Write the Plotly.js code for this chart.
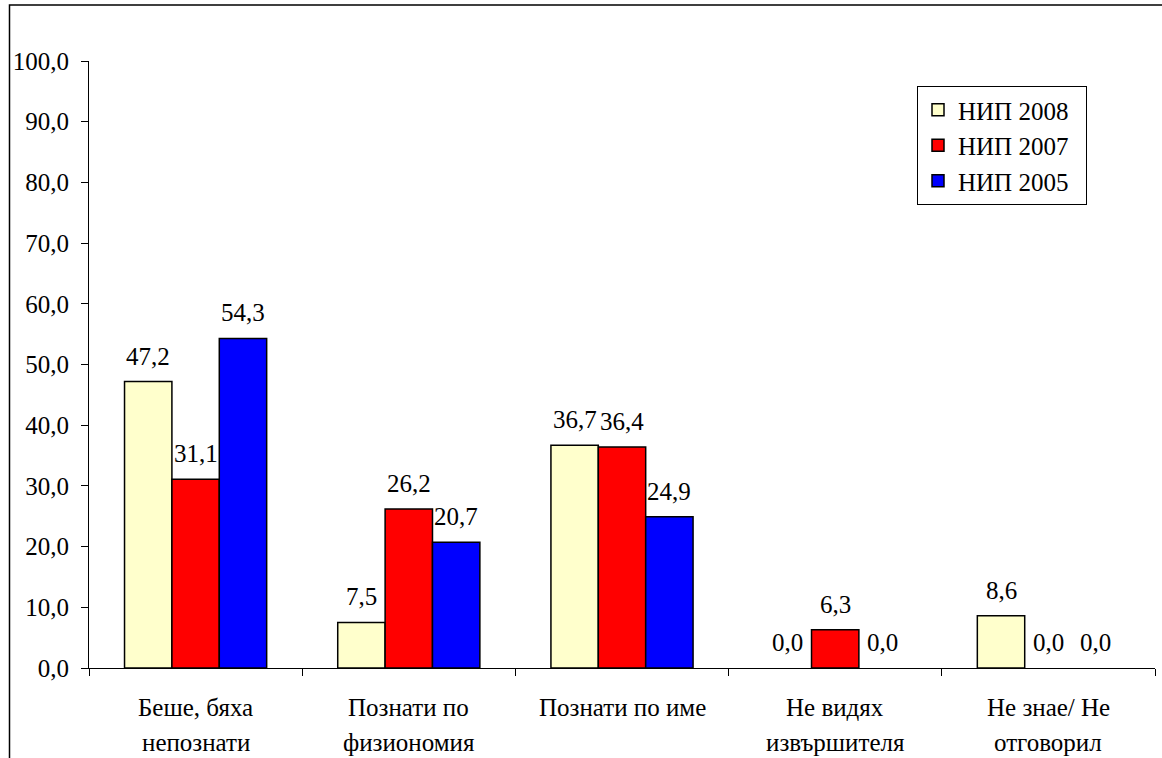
<!DOCTYPE html>
<html>
<head>
<meta charset="utf-8">
<script src="https://cdn.plot.ly/plotly-3.0.1.min.js"></script>
<style>
html,body{margin:0;padding:0;background:#fff;}
#chart{width:1162px;height:758px;}
</style>
</head>
<body>
<div id="chart"></div>
<script>
const categories = ["Беше, бяха|непознати", "Познати по|физиономия", "Познати по име", "Не видях|извършителя", "Не знае/ Не|отговорил"];
const seriesNames = ["НИП 2008", "НИП 2007", "НИП 2005"];
const nip2008 = [47.2, 7.5, 36.7, 0.0, 8.6];
const nip2007 = [31.1, 26.2, 36.4, 6.3, 0.0];
const nip2005 = [54.3, 20.7, 24.9, 0.0, 0.0];
const yTicks = [0, 10, 20, 30, 40, 50, 60, 70, 80, 90, 100];

const seriesValues = [nip2008, nip2007, nip2005];
const colors = ["#FFFFCC", "#FF0000", "#0000FF"];
const FONT = "Liberation Serif";
const FS = 25;
const fmt = v => v.toFixed(1).replace('.', ',');

const W = 1162, H = 758;
const margin = {l: 89, r: 7, t: 61, b: 90};
const plotW = W - margin.l - margin.r;
const plotH = H - margin.t - margin.b;
const bargap = 1/3;
const catW = plotW / categories.length;
const barW = catW * (1 - bargap) / seriesValues.length;

const traces = seriesValues.map((vals, i) => ({
  type: 'bar',
  name: seriesNames[i] + '\u00a0\u00a0',
  x: categories,
  y: vals,
  legendgroup: 'g' + i,
  marker: {color: colors[i], line: {color: '#000', width: vals.map(v => v === 0 ? 0 : 1.5)}},
  hoverinfo: 'skip'
}));

const annotations = [];
seriesValues.forEach((vals, i) => {
  vals.forEach((v, j) => {
    annotations.push({
      x: categories[j], y: v, xref: 'x', yref: 'y',
      text: fmt(v), showarrow: false,
      xshift: (i - 1) * barW, yshift: 10,
      yanchor: 'bottom', xanchor: 'center',
      font: {family: FONT, size: FS, color: '#000'}
    });
  });
});
categories.forEach(c => {
  c.split('|').forEach((line, k) => {
    annotations.push({
      x: c, y: 0, xref: 'x', yref: 'paper',
      text: line, showarrow: false,
      yanchor: 'middle', xanchor: 'center',
      yshift: -39 - 35 * k,
      font: {family: FONT, size: FS, color: '#000'}
    });
  });
});

const layout = {
  width: W, height: H,
  margin: margin,
  paper_bgcolor: '#fff', plot_bgcolor: '#fff',
  separators: ',.',
  font: {family: FONT, size: FS, color: '#000'},
  barmode: 'group',
  bargap: bargap,
  bargroupgap: 0,
  showlegend: true,
  legend: {
    x: (917 - margin.l) / plotW, y: (H - margin.b - 86) / plotH,
    xanchor: 'left', yanchor: 'top',
    bgcolor: '#fff', bordercolor: '#000', borderwidth: 1,
    font: {family: FONT, size: FS, color: '#000'},
    tracegroupgap: 16, traceorder: 'normal'
  },
  xaxis: {
    type: 'category',
    showline: true, linecolor: '#000', linewidth: 1,
    ticks: 'outside', tickson: 'boundaries', ticklen: 7, tickcolor: '#000',
    showticklabels: false, showgrid: false, zeroline: false,
    fixedrange: true
  },
  yaxis: {
    range: [0, 100],
    tickvals: yTicks, ticktext: yTicks.map(fmt),
    showline: true, linecolor: '#000', linewidth: 1,
    ticks: 'outside', ticklen: 7, tickcolor: '#000',
    ticklabelstandoff: 7,
    showgrid: false, zeroline: false,
    tickfont: {family: FONT, size: FS, color: '#000'},
    fixedrange: true
  },
  annotations: annotations,
  shapes: [{
    type: 'rect', xref: 'paper', yref: 'paper',
    x0: (9.5 - margin.l) / plotW, x1: (1175 - margin.l) / plotW,
    y0: (H - margin.b - 780) / plotH, y1: (H - margin.b - 5) / plotH,
    line: {color: '#000', width: 1.5}, fillcolor: 'rgba(0,0,0,0)', layer: 'below'
  }]
};

Plotly.newPlot('chart', traces, layout, {displayModeBar: false, staticPlot: true});
</script>
</body>
</html>
